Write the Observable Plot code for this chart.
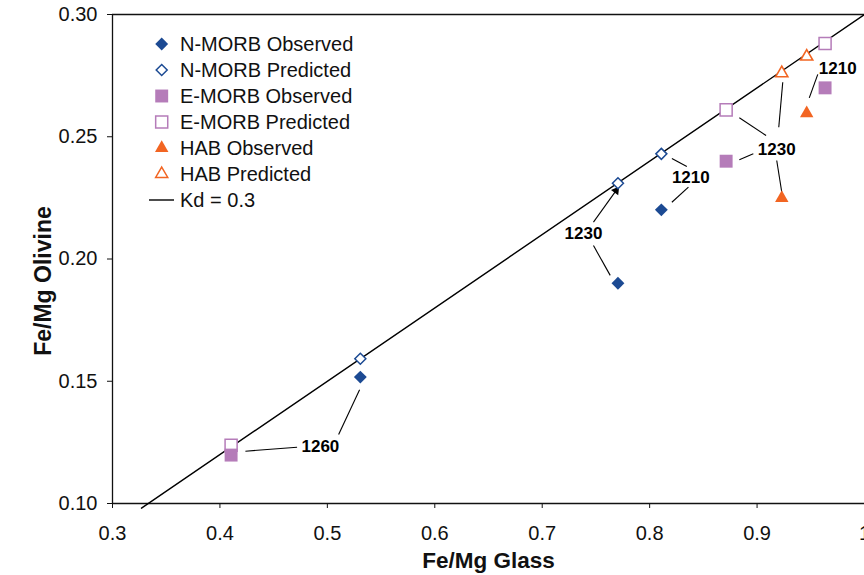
<!DOCTYPE html>
<html><head><meta charset="utf-8">
<script src="https://cdn.jsdelivr.net/npm/d3@7"></script>
<script src="https://cdn.jsdelivr.net/npm/@observablehq/plot@0.6"></script>
<style>
html,body{margin:0;padding:0;background:#fff;overflow:hidden}
#wrap{position:relative;width:864px;height:575px}
#legend{position:absolute;left:140px;top:30px}
</style></head><body><div id="wrap"></div>
<script>
// ---- data ----
const nmorbX    = [0.5307, 0.7705, 0.8109];
const nmorbObs  = [0.1517, 0.1901, 0.2201];
const nmorbPred = [0.1592, 0.2310, 0.2430];
const emorbX    = [0.4104, 0.8712, 0.9633];
const emorbObs  = [0.1198, 0.2400, 0.2700];
const emorbPred = [0.1238, 0.2610, 0.2881];
const habX      = [0.9230, 0.9462];
const habObs    = [0.2249, 0.2596];
const habPred   = [0.2760, 0.2828];
const kdX = [0.327, 1.0];
const kdY = [0.0981, 0.30];

const labelText = ["1260", "1230", "1210", "1230", "1210"];
const labelX = [0.4935, 0.7384, 0.8383, 0.9183, 0.9751];
const labelY = [0.1233, 0.2103, 0.2335, 0.2448, 0.2778];

const leadX1 = [0.4237, 0.5105, 0.7477, 0.8207, 0.8207, 0.8835, 0.8835, 0.9239, 0.9183, 0.9565];
const leadY1 = [0.1214, 0.1282, 0.2055, 0.2411, 0.2232, 0.2578, 0.2406, 0.2723, 0.2403, 0.2755];
const leadX2 = [0.4718, 0.5300, 0.7633, 0.8346, 0.8361, 0.9084, 0.8965, 0.9202, 0.9230, 0.9486];
const leadY2 = [0.1230, 0.1465, 0.1933, 0.2378, 0.2294, 0.2505, 0.2430, 0.2539, 0.2273, 0.2659];

const arrowX = [0.7477, 0.7716];
const arrowY = [0.2151, 0.2297];
const arrowHeadX = [0.7688];
const arrowHeadY = [0.2280];

const xTicks = [0.3, 0.4, 0.5, 0.6, 0.7, 0.8, 0.9, 1.0];
const xTickLabels = ["0.3", "0.4", "0.5", "0.6", "0.7", "0.8", "0.9", "1"];
const yTicks = [0.10, 0.15, 0.20, 0.25, 0.30];
const yTickLabels = ["0.10", "0.15", "0.20", "0.25", "0.30"];

const seriesNames = ["N-MORB Observed", "N-MORB Predicted", "E-MORB Observed", "E-MORB Predicted", "HAB Observed", "HAB Predicted", "Kd = 0.3"];
const xTitle = "Fe/Mg Glass";
const yTitle = "Fe/Mg Olivine";

const BLUE = "#1c4a93", PURPLE = "#b57cb9", ORANGE = "#f26522";

const plot = Plot.plot({
  width: 864, height: 575,
  marginLeft: 112, marginRight: 0, marginTop: 14, marginBottom: 72,
  style: {fontFamily: "'Liberation Sans', Arial, sans-serif", color: "#111", background: "#fff", overflow: "visible"},
  x: {domain: [0.3, 1.0]},
  y: {domain: [0.10, 0.30]},
  marks: [
    Plot.axisX({ticks: xTicks, tickFormat: d => xTickLabels[xTicks.findIndex(t => Math.abs(t - d) < 1e-9)], tickSize: 5, tickPadding: 17, fontSize: 20, label: null, stroke: "#111"}),
    Plot.axisY({ticks: yTicks, tickFormat: d => yTickLabels[yTicks.findIndex(t => Math.abs(t - d) < 1e-9)], tickSize: 5, tickPadding: 10, fontSize: 20, label: null, stroke: "#111"}),
    Plot.ruleY([0.30], {stroke: "#111", strokeWidth: 1.3}),
    Plot.ruleY([0.10], {stroke: "#111", strokeWidth: 1.3}),
    Plot.ruleX([0.3], {stroke: "#111", strokeWidth: 1.3}),
    Plot.text([xTitle], {frameAnchor: "bottom", textAnchor: "middle", dy: 64, fontWeight: "bold", fontSize: 22.5, fill: "#111"}),
    Plot.text([yTitle], {frameAnchor: "left", textAnchor: "middle", dx: -69, dy: 22, rotate: -90, fontWeight: "bold", fontSize: 23, fill: "#111"}),
    Plot.line({length: kdX.length}, {x: kdX, y: kdY, stroke: "#000", strokeWidth: 1.4}),
    Plot.link({length: leadX1.length}, {x1: leadX1, y1: leadY1, x2: leadX2, y2: leadY2, stroke: "#000", strokeWidth: 1.1}),
    Plot.link({length: 1}, {x1: [arrowX[0]], y1: [arrowY[0]], x2: [arrowX[1]], y2: [arrowY[1]], stroke: "#000", strokeWidth: 1.1}),
    Plot.dot({length: 1}, {x: arrowHeadX, y: arrowHeadY, symbol: "triangle", r: 3.3, rotate: 36, fill: "#000", stroke: "none"}),
    Plot.dot({length: 3}, {x: nmorbX, y: nmorbPred, symbol: "diamond2", r: 4.95, fill: "#fff", stroke: BLUE, strokeWidth: 1.5}),
    Plot.dot({length: 3}, {x: emorbX, y: emorbPred, symbol: "square", r: 6.8, fill: "#fff", stroke: PURPLE, strokeWidth: 1.5}),
    Plot.dot({length: 2}, {x: habX, y: habPred, symbol: "triangle", r: 4.5, fill: "#fff", stroke: ORANGE, strokeWidth: 1.6}),
    Plot.dot({length: 3}, {x: nmorbX, y: nmorbObs, symbol: "diamond2", r: 5.8, fill: BLUE, stroke: "none"}),
    Plot.dot({length: 3}, {x: emorbX, y: emorbObs, symbol: "square", r: 7.3, fill: PURPLE, stroke: "none"}),
    Plot.dot({length: 2}, {x: habX, y: habObs, symbol: "triangle", r: 5, fill: ORANGE, stroke: "none"}),
    Plot.text({length: labelText.length}, {x: labelX, y: labelY, text: labelText, fontWeight: "bold", fontSize: 17, fill: "#000"})
  ]
});
const wrap = document.getElementById("wrap");
wrap.appendChild(plot);

// ---- legend ----
const legendStyles = [
  {sym: d3.symbolDiamond2, size: Math.PI * 5.8 * 5.8, fill: BLUE, stroke: "none"},
  {sym: d3.symbolDiamond2, size: Math.PI * 4.95 * 4.95, fill: "#fff", stroke: BLUE},
  {sym: d3.symbolSquare, size: Math.PI * 7.3 * 7.3, fill: PURPLE, stroke: "none"},
  {sym: d3.symbolSquare, size: Math.PI * 6.8 * 6.8, fill: "#fff", stroke: PURPLE},
  {sym: d3.symbolTriangle, size: Math.PI * 5 * 5, fill: ORANGE, stroke: "none"},
  {sym: d3.symbolTriangle, size: Math.PI * 4.5 * 4.5, fill: "#fff", stroke: ORANGE},
  {line: true}
];
const lg = d3.select(wrap).append("svg").attr("id", "legend").attr("width", 240).attr("height", 190)
  .style("font-family", "'Liberation Sans', Arial, sans-serif");
seriesNames.forEach((name, i) => {
  const g = lg.append("g").attr("transform", `translate(0,${14 + 26 * i})`);
  const s = legendStyles[i];
  if (s.line) {
    g.append("line").attr("x1", 9).attr("x2", 34).attr("y1", 0).attr("y2", 0).attr("stroke", "#000").attr("stroke-width", 1.4);
  } else {
    g.append("path").attr("transform", "translate(21.7,0)").attr("d", d3.symbol(s.sym, s.size)())
      .attr("fill", s.fill).attr("stroke", s.stroke).attr("stroke-width", 1.5);
  }
  g.append("text").attr("x", 40).attr("y", 0).attr("dy", "0.35em").attr("font-size", 20).attr("fill", "#111").text(name);
});
</script></body></html>
